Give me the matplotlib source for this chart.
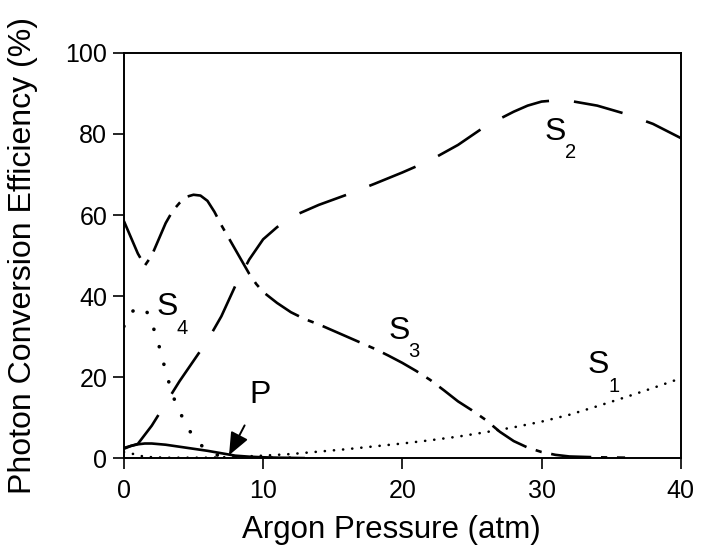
import matplotlib
matplotlib.use("Agg")
import matplotlib.pyplot as plt
import numpy as np

plt.rcParams['font.family'] = ['Liberation Sans', 'DejaVu Sans']
plt.rcParams['lines.scale_dashes'] = False

# Argon pressure (atm) and photon conversion efficiency (%) per channel
s2_p = [0, 1, 2, 3, 4, 5, 6, 7, 8, 9, 10, 11, 12, 14, 16, 18, 20, 22, 24, 26, 28, 29, 30, 31, 32, 34, 36, 38, 40]
s2_e = [2.5, 3.5, 8, 13.5, 19, 24, 29, 35, 42.5, 49, 54, 57, 59.5, 62.5, 65, 67.7, 70.5, 73.5, 77.3, 82, 85.5, 87, 88, 88.3, 88.2, 87, 85, 82.5, 79]

s3_p = [0, 0.5, 1.0, 1.5, 2.0, 2.5, 3, 3.5, 4, 4.5, 5, 5.5, 6, 6.5, 7, 7.5, 8, 8.5, 9, 9.5, 10, 11, 12, 13, 14, 15, 16, 17, 18, 19, 20, 21, 22, 23, 24, 25, 26, 27, 28, 29, 30, 31, 32, 34, 36]
s3_e = [58.5, 54.5, 50.5, 47.5, 50, 54, 58, 61, 63, 64.5, 65, 64.8, 63.5, 60.8, 57.5, 54.5, 51.5, 48.5, 45.5, 43, 41, 38.3, 36, 34.3, 33, 31.5, 30, 28.5, 27, 25.3, 23.5, 21.5, 19.3, 16.7, 14, 11.8, 9.4, 6.5, 4.2, 2.6, 1.5, 0.8, 0.4, 0.2, 0.1]

s4_p = [0, 0.5, 1.0, 1.5, 2.0, 2.5, 3.0, 3.5, 4.0, 4.5, 5.0, 5.5, 6.0, 6.5, 7.0, 8.0, 9.0, 10.0, 12.0]
s4_e = [32.5, 36, 37, 37.2, 33.5, 28, 21.5, 15.5, 11.5, 8, 5.2, 3.3, 2.0, 1.0, 0.4, 0.1, 0.05, 0.0, 0.0]

s1_p = [0, 0.7, 1.5, 3, 6, 8, 10, 12, 14, 16, 18, 20, 22, 24, 26, 28, 30, 32, 34, 36, 38, 40]
s1_e = [1.5, 1.0, 0.3, 0.1, 0.1, 0.3, 0.6, 1.0, 1.6, 2.2, 2.9, 3.6, 4.4, 5.3, 6.4, 7.6, 9.0, 10.7, 12.8, 15.0, 17.3, 19.7]

pp_p = [0, 0.5, 1, 1.5, 2, 3, 4, 5, 6, 7, 7.5, 8, 9, 10, 11, 12, 13]
pp_e = [2.3, 3.0, 3.4, 3.6, 3.6, 3.3, 2.8, 2.3, 1.8, 1.2, 0.9, 0.6, 0.35, 0.2, 0.1, 0.05, 0.0]

x_ticks = [0, 10, 20, 30, 40]
y_ticks = [0, 20, 40, 60, 80, 100]

fig = plt.figure(figsize=(7.04, 5.46), dpi=100)
ax = fig.add_axes([0.176, 0.161, 0.791, 0.742])

ax.plot(s2_p, s2_e, color='black', lw=1.9, linestyle=(0, (36, 18)), dash_capstyle='butt')
ax.plot(s3_p, s3_e, color='black', lw=1.9, linestyle=(0, (29, 7, 4.5, 7)), dash_capstyle='butt')
ax.plot(s4_p, s4_e, color='black', lw=2.6, linestyle=(0, (0.1, 13)), dash_capstyle='round')
ax.plot(s1_p, s1_e, color='black', lw=1.9, linestyle=(0, (0.1, 6.5)), dash_capstyle='round')
ax.plot(pp_p, pp_e, color='black', lw=1.9, solid_capstyle='butt')

ax.set_xlim(0, 40)
ax.set_ylim(0, 100)
ax.set_xticks(x_ticks)
ax.set_yticks(y_ticks)
ax.tick_params(direction='out', length=8, width=1.2, labelsize=18, pad=4, colors='black')
ax.tick_params(axis='x', pad=7)
for s in ax.spines.values():
    s.set_linewidth(1.4)

ax.set_xlabel('Argon Pressure (atm)', fontsize=22.5)
ax.set_ylabel('Photon Conversion Efficiency (%)', fontsize=23)
ax.xaxis.set_label_coords(0.481, -0.14)
ax.xaxis.label.set_va('top')
ax.yaxis.set_label_coords(-0.155, 0.5)

# channel labels with lowered subscripts
def channel_label(xs, ys, xd, yd, digit):
    ax.text(xs, ys, 'S', fontsize=23, ha='center', va='center')
    ax.text(xd, yd, digit, fontsize=14.5, ha='center', va='center')

channel_label(3.1, 37.4, 4.2, 32.0, '4')
channel_label(19.8, 31.3, 20.8, 26.4, '3')
channel_label(31.0, 80.5, 32.1, 75.4, '2')
channel_label(34.1, 22.9, 35.2, 17.7, '1')

ax.annotate('P', xy=(7.55, 0.7), xytext=(9.8, 15.5), fontsize=23, ha='center', va='center',
            arrowprops=dict(arrowstyle='-|>,head_length=0.6,head_width=0.25', color='black', lw=1.4,
                            shrinkA=10, shrinkB=0))

fig.savefig('out.png', dpi=100)
